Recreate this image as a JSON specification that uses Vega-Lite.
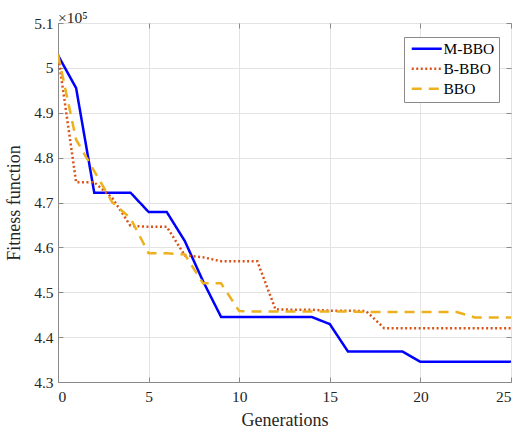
{
  "$schema": "https://vega.github.io/schema/vega-lite/v6.json",
  "width": 453,
  "height": 359,
  "autosize": {"type": "none"},
  "padding": {"left": 58, "top": 23, "right": 9, "bottom": 50},
  "background": "white",
  "config": {
    "font": "Liberation Serif",
    "view": {"stroke": "#8a8a8a", "strokeWidth": 1},
    "axis": {
      "labelFont": "Liberation Serif",
      "titleFont": "Liberation Serif",
      "labelFontSize": 15.5,
      "titleFontSize": 18,
      "labelColor": "#262626",
      "titleColor": "#262626",
      "titleFontWeight": "normal",
      "domainColor": "#8a8a8a",
      "tickColor": "#8a8a8a",
      "gridColor": "#e3e3e3",
      "gridOpacity": 1
    }
  },
  "title": {
    "text": "×10⁵",
    "anchor": "start",
    "frame": "group",
    "font": "Liberation Serif",
    "fontSize": 15.5,
    "fontWeight": "normal",
    "color": "#262626",
    "offset": -10
  },
  "data": {
    "values": [
      {"series": "M-BBO", "gen": 0, "fitness": 502800},
      {"series": "M-BBO", "gen": 1, "fitness": 495500},
      {"series": "M-BBO", "gen": 2, "fitness": 472200},
      {"series": "M-BBO", "gen": 3, "fitness": 472200},
      {"series": "M-BBO", "gen": 4, "fitness": 472200},
      {"series": "M-BBO", "gen": 5, "fitness": 467900},
      {"series": "M-BBO", "gen": 6, "fitness": 467900},
      {"series": "M-BBO", "gen": 7, "fitness": 461400},
      {"series": "M-BBO", "gen": 8, "fitness": 452500},
      {"series": "M-BBO", "gen": 9, "fitness": 444500},
      {"series": "M-BBO", "gen": 10, "fitness": 444500},
      {"series": "M-BBO", "gen": 11, "fitness": 444500},
      {"series": "M-BBO", "gen": 12, "fitness": 444500},
      {"series": "M-BBO", "gen": 13, "fitness": 444500},
      {"series": "M-BBO", "gen": 14, "fitness": 444500},
      {"series": "M-BBO", "gen": 15, "fitness": 442900},
      {"series": "M-BBO", "gen": 16, "fitness": 436800},
      {"series": "M-BBO", "gen": 17, "fitness": 436800},
      {"series": "M-BBO", "gen": 18, "fitness": 436800},
      {"series": "M-BBO", "gen": 19, "fitness": 436800},
      {"series": "M-BBO", "gen": 20, "fitness": 434500},
      {"series": "M-BBO", "gen": 21, "fitness": 434500},
      {"series": "M-BBO", "gen": 22, "fitness": 434500},
      {"series": "M-BBO", "gen": 23, "fitness": 434500},
      {"series": "M-BBO", "gen": 24, "fitness": 434500},
      {"series": "M-BBO", "gen": 25, "fitness": 434500},
      {"series": "B-BBO", "gen": 0, "fitness": 503000},
      {"series": "B-BBO", "gen": 1, "fitness": 474500},
      {"series": "B-BBO", "gen": 2, "fitness": 474500},
      {"series": "B-BBO", "gen": 3, "fitness": 471000},
      {"series": "B-BBO", "gen": 4, "fitness": 464800},
      {"series": "B-BBO", "gen": 5, "fitness": 464600},
      {"series": "B-BBO", "gen": 6, "fitness": 464600},
      {"series": "B-BBO", "gen": 7, "fitness": 458200},
      {"series": "B-BBO", "gen": 8, "fitness": 457800},
      {"series": "B-BBO", "gen": 9, "fitness": 456900},
      {"series": "B-BBO", "gen": 10, "fitness": 456900},
      {"series": "B-BBO", "gen": 11, "fitness": 456900},
      {"series": "B-BBO", "gen": 12, "fitness": 446200},
      {"series": "B-BBO", "gen": 13, "fitness": 446100},
      {"series": "B-BBO", "gen": 14, "fitness": 446100},
      {"series": "B-BBO", "gen": 15, "fitness": 445900},
      {"series": "B-BBO", "gen": 16, "fitness": 445900},
      {"series": "B-BBO", "gen": 17, "fitness": 445800},
      {"series": "B-BBO", "gen": 18, "fitness": 442000},
      {"series": "B-BBO", "gen": 19, "fitness": 442000},
      {"series": "B-BBO", "gen": 20, "fitness": 442000},
      {"series": "B-BBO", "gen": 21, "fitness": 442000},
      {"series": "B-BBO", "gen": 22, "fitness": 442000},
      {"series": "B-BBO", "gen": 23, "fitness": 442000},
      {"series": "B-BBO", "gen": 24, "fitness": 442000},
      {"series": "B-BBO", "gen": 25, "fitness": 442000},
      {"series": "BBO", "gen": 0, "fitness": 503000},
      {"series": "BBO", "gen": 1, "fitness": 484000},
      {"series": "BBO", "gen": 2, "fitness": 477000},
      {"series": "BBO", "gen": 3, "fitness": 470000},
      {"series": "BBO", "gen": 4, "fitness": 466500},
      {"series": "BBO", "gen": 5, "fitness": 458700},
      {"series": "BBO", "gen": 6, "fitness": 458700},
      {"series": "BBO", "gen": 7, "fitness": 458400},
      {"series": "BBO", "gen": 8, "fitness": 452000},
      {"series": "BBO", "gen": 9, "fitness": 452000},
      {"series": "BBO", "gen": 10, "fitness": 445800},
      {"series": "BBO", "gen": 11, "fitness": 445700},
      {"series": "BBO", "gen": 12, "fitness": 445700},
      {"series": "BBO", "gen": 13, "fitness": 445700},
      {"series": "BBO", "gen": 14, "fitness": 445700},
      {"series": "BBO", "gen": 15, "fitness": 445700},
      {"series": "BBO", "gen": 16, "fitness": 445700},
      {"series": "BBO", "gen": 17, "fitness": 445600},
      {"series": "BBO", "gen": 18, "fitness": 445600},
      {"series": "BBO", "gen": 19, "fitness": 445600},
      {"series": "BBO", "gen": 20, "fitness": 445600},
      {"series": "BBO", "gen": 21, "fitness": 445600},
      {"series": "BBO", "gen": 22, "fitness": 445600},
      {"series": "BBO", "gen": 23, "fitness": 444400},
      {"series": "BBO", "gen": 24, "fitness": 444400},
      {"series": "BBO", "gen": 25, "fitness": 444400}
    ]
  },
  "resolve": {"axis": {"x": "independent", "y": "independent"}},
  "layer": [
    {
      "mark": {"type": "line", "strokeWidth": 2.5, "clip": true},
      "encoding": {
        "x": {
          "field": "gen",
          "type": "quantitative",
          "scale": {"domain": [0, 25], "nice": false},
          "axis": {
            "title": "Generations",
            "values": [0, 5, 10, 15, 20, 25],
            "tickSize": -5,
            "labelPadding": 12,
            "titlePadding": 7,
            "grid": true
          }
        },
        "y": {
          "field": "fitness",
          "type": "quantitative",
          "scale": {"domain": [430000, 510000], "nice": false, "zero": false},
          "axis": {
            "title": "Fitness function",
            "values": [430000, 440000, 450000, 460000, 470000, 480000, 490000, 500000, 510000],
            "labelExpr": "format(datum.value / 100000, '.1~f')",
            "tickSize": -5,
            "labelPadding": 10,
            "titlePadding": 10,
            "grid": true
          }
        },
        "color": {
          "field": "series",
          "type": "nominal",
          "scale": {"domain": ["M-BBO", "B-BBO", "BBO"], "range": ["#0000ff", "#D95319", "#EDB120"]},
          "legend": {
            "title": null,
            "orient": "none",
            "legendX": 346,
            "legendY": 14,
            "symbolType": "M-3,0H3",
            "symbolSize": 100,
            "symbolStrokeWidth": 2.5,
            "symbolOffset": 11,
            "labelFont": "Liberation Serif",
            "labelFontSize": 15.5,
            "labelColor": "#000000",
            "strokeColor": "#8a8a8a",
            "fillColor": "white",
            "padding": 4,
            "rowPadding": 3,
            "labelOffset": 9
          }
        },
        "strokeDash": {
          "field": "series",
          "type": "nominal",
          "scale": {"domain": ["M-BBO", "B-BBO", "BBO"], "range": [[1, 0], [2, 2.5], [10, 7]]},
          "legend": null
        }
      }
    },
    {
      "mark": {"type": "point", "opacity": 0},
      "encoding": {
        "x": {
          "field": "gen",
          "type": "quantitative",
          "axis": {
            "orient": "top",
            "title": null,
            "labels": false,
            "domain": false,
            "grid": false,
            "values": [0, 5, 10, 15, 20, 25],
            "tickSize": -5
          }
        },
        "y": {
          "field": "fitness",
          "type": "quantitative",
          "axis": {
            "orient": "right",
            "title": null,
            "labels": false,
            "domain": false,
            "grid": false,
            "values": [430000, 440000, 450000, 460000, 470000, 480000, 490000, 500000, 510000],
            "tickSize": -5
          }
        }
      }
    }
  ]
}
